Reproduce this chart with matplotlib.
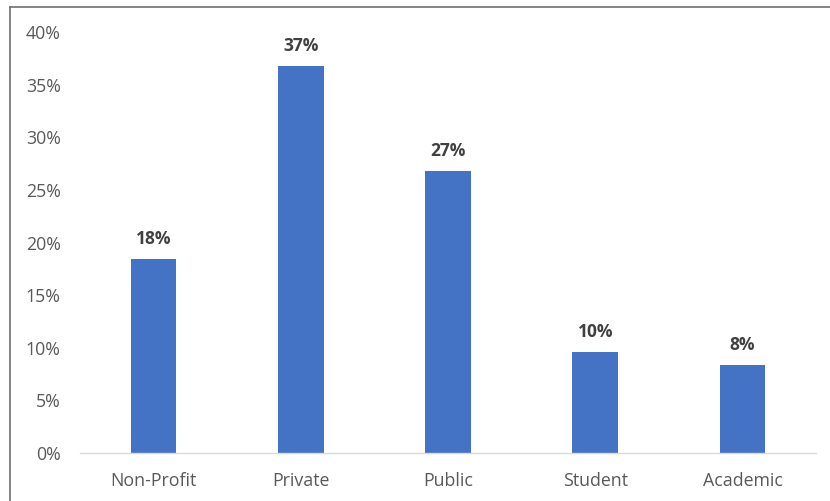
#!/usr/bin/env python3

import matplotlib.pyplot as plt
from matplotlib.lines import Line2D
from matplotlib.ticker import PercentFormatter

# Share of respondents by sector (%)
categories = ["Non-Profit", "Private", "Public", "Student", "Academic"]
shares = [18.4, 36.8, 26.8, 9.6, 8.4]
y_ticks = [0, 5, 10, 15, 20, 25, 30, 35, 40]

BAR_COLOR = "#4472C4"
TEXT_COLOR = "#595959"
LABEL_COLOR = "#404040"

plt.rcParams['font.family'] = ['Open Sans', 'DejaVu Sans']

fig = plt.figure(figsize=(8.3, 5.01), dpi=100)
ax = fig.add_axes([0.0964, 0.0958, 0.8868, 0.8403])

x = range(len(categories))
bars = ax.bar(x, shares, width=0.31, color=BAR_COLOR, zorder=2)

for rect, val in zip(bars, shares):
    ax.text(rect.get_x() + rect.get_width() / 2, val + 1.05, f"{val:.0f}%",
            ha="center", va="bottom", fontsize=12.5, fontweight="bold",
            color=LABEL_COLOR)

ax.set_xlim(-0.5, len(categories) - 0.5)
ax.set_ylim(0, 40)
ax.set_yticks(y_ticks)
ax.yaxis.set_major_formatter(PercentFormatter(decimals=0))
ax.set_xticks(list(x))
ax.set_xticklabels(categories)

for side in ("top", "right", "left"):
    ax.spines[side].set_visible(False)
ax.spines["bottom"].set_color("#D9D9D9")
ax.spines["bottom"].set_linewidth(1.0)

ax.tick_params(axis="both", length=0, labelsize=12.8, colors=TEXT_COLOR)
ax.tick_params(axis="y", pad=14)
ax.tick_params(axis="x", pad=14)

# Outer frame, only left and top edges
fw, fh = 830, 501
fig.add_artist(Line2D([9.5 / fw, 9.5 / fw], [0, 1 - 6.5 / fh],
                      transform=fig.transFigure, color="#707070", lw=1.2))
fig.add_artist(Line2D([9.5 / fw, 1], [1 - 6.5 / fh, 1 - 6.5 / fh],
                      transform=fig.transFigure, color="#707070", lw=1.2))

fig.savefig("out.png", dpi=100)
